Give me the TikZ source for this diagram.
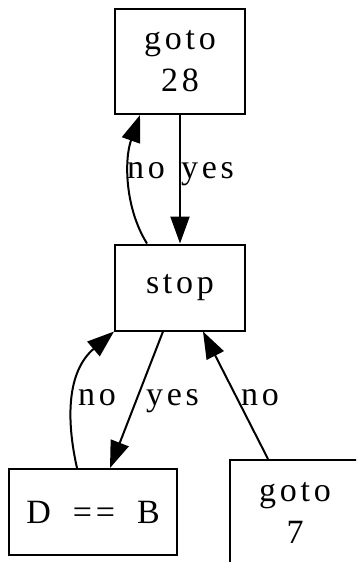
\documentclass[tikz,border=0pt]{standalone}
\usepackage{fontspec}
\setmainfont[LetterSpace=11,WordSpace=1.8]{Liberation Serif}
\usetikzlibrary{arrows.meta}
\begin{document}
\begin{tikzpicture}[x=1pt,y=-1pt,
  box/.style={draw,line width=2pt,inner sep=0pt,align=center,
    font=\fontsize{34}{42}\selectfont},
  arr/.style={line width=2pt,-{Triangle[length=27pt,width=19pt]}},
  lbl/.style={inner sep=0pt,anchor=base west,font=\fontsize{34}{42}\selectfont}]
\useasboundingbox (0,0) rectangle (356,562);
\clip (0,0) rectangle (356,562);
\node[box,minimum width=130pt,minimum height=105pt] (g28) at (180,61.5) {goto\\28};
\node[box,minimum width=130pt,minimum height=86pt] (stop) at (180,287.5) {stop};
\node[box,minimum width=168pt,minimum height=86pt] (deq) at (93,512) {D == B};
\node[box,minimum width=130pt,minimum height=105pt] (g7) at (295,512.5) {goto\\7};
% goto28 -> stop yes
\draw[arr] (g28.south) -- (stop.north);
\node[lbl] (y1) at (181,178) {yes};
% stop -> goto28 no
\draw[arr] ([xshift=-33pt]stop.north) .. controls +(-22,-35) and +(-16,45) .. ([xshift=-40pt]g28.south);
\node[lbl] (n1) at (127,178) {no};
% stop -> D==B yes
\draw[arr] ([xshift=-17pt]stop.south) -- ([xshift=17pt]deq.north);
\node[lbl] (y2) at (146,405) {yes};
% D==B -> stop no
\draw[arr] ([xshift=-16pt]deq.north) .. controls +(-11,-49) and +(-47,40) .. (stop.south west);
\node[lbl] (n2) at (78,405) {no};
% goto7 -> stop no
\draw[arr] ([xshift=-27pt]g7.north) -- ([xshift=23pt]stop.south);
\node[lbl] (n3) at (241,405) {no};
\end{tikzpicture}
\end{document}
